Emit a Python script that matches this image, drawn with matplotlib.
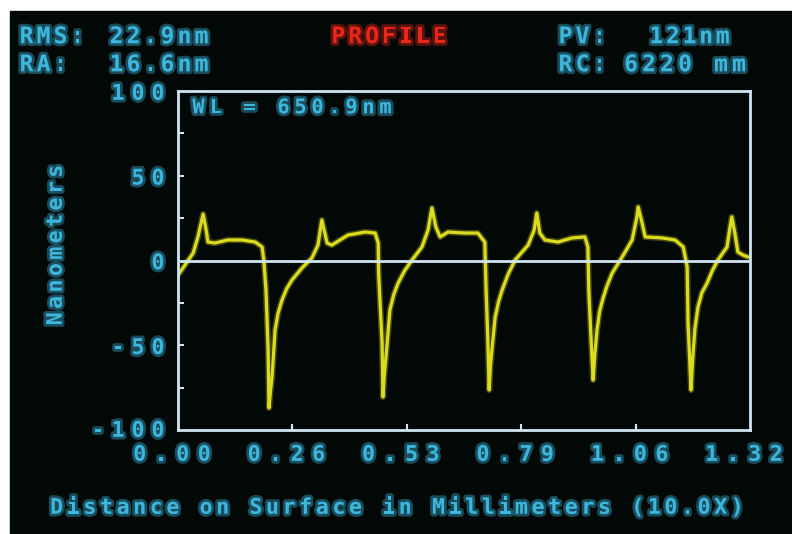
import matplotlib
matplotlib.use("Agg")
import matplotlib.pyplot as plt
import matplotlib.patheffects as pe
from matplotlib.patches import Rectangle

# surface profile trace (mm along surface, height in nm)
dist_mm = [0.000, 0.016, 0.035, 0.046, 0.058, 0.065, 0.069, 0.085, 0.115, 0.148,
           0.178, 0.194, 0.198, 0.203, 0.208, 0.210, 0.213, 0.217, 0.224, 0.231,
           0.240, 0.251, 0.263, 0.286, 0.309, 0.323, 0.332, 0.344, 0.355, 0.392,
           0.432, 0.455, 0.462, 0.463, 0.466, 0.471, 0.473, 0.476, 0.480, 0.489,
           0.498, 0.508, 0.523, 0.540, 0.563, 0.577, 0.586, 0.595, 0.605, 0.623,
           0.662, 0.692, 0.708, 0.711, 0.715, 0.718, 0.721, 0.725, 0.732, 0.740,
           0.748, 0.762, 0.778, 0.808, 0.822, 0.828, 0.835, 0.847, 0.877, 0.909,
           0.939, 0.946, 0.948, 0.953, 0.958, 0.962, 0.967, 0.973, 0.981, 0.990,
           1.002, 1.025, 1.048, 1.059, 1.062, 1.071, 1.078, 1.117, 1.147, 1.166,
           1.175, 1.177, 1.184, 1.186, 1.188, 1.193, 1.200, 1.209, 1.221, 1.233,
           1.246, 1.267, 1.274, 1.278, 1.285, 1.292, 1.304, 1.315]
height_nm = [-8.6, -2.7, 4.4, 13.9, 27.4, 18.0, 10.9, 10.3, 12.1, 12.1,
             10.9, 8.0, 0.3, -17.4, -52.8, -87.0, -78.0, -68.7, -41.0, -31.0,
             -23.3, -16.5, -11.5, -4.4, 1.5, 9.1, 23.9, 10.3, 9.1, 15.0,
             16.8, 16.2, 10.3, -7.4, -23.3, -48.7, -80.5, -68.0, -56.9, -29.2,
             -20.0, -13.3, -6.0, 0.3, 8.0, 18.0, 31.0, 19.8, 13.9, 16.8,
             16.2, 16.2, 10.9, -17.4, -46.9, -76.4, -62.0, -51.0, -33.3, -24.0,
             -17.4, -8.0, 0.3, 9.1, 18.0, 28.0, 16.2, 12.1, 10.9, 13.3,
             13.9, 8.0, -17.4, -45.1, -70.5, -55.0, -41.0, -30.0, -22.1, -15.0,
             -7.4, 2.1, 12.1, 25.7, 31.6, 22.1, 13.9, 13.3, 12.1, 8.0,
             -3.8, -36.9, -76.4, -66.0, -56.9, -40.0, -27.4, -19.0, -13.3, -6.0,
             0.3, 8.0, 19.8, 25.7, 16.2, 5.0, 3.2, 2.1]

x_ticks = [0.264, 0.528, 0.792, 1.056]
x_labels = ["0.00", "0.26", "0.53", "0.79", "1.06", "1.32"]
x_label_pos = [0.0, 0.264, 0.528, 0.792, 1.056, 1.32]
y_ticks = [-75, -50, -25, 25, 50, 75]
y_labels = ["100", "50", "0", "-50", "-100"]
y_label_pos = [100, 50, 0, -50, -100]

stats_left = [("RMS:", "22.9nm"), ("RA:", "16.6nm")]
stats_right = [("PV:", "121nm"), ("RC:", "6220 mm")]

W, H = 792, 534
CYAN = "#3db6de"
RED = "#e8261a"
YELLOW = "#dcdc1e"
FRAME = "#cfe6f2"
SCREEN = "#020806"
FONT = "DejaVu Sans Mono"

fig = plt.figure(figsize=(W / 100, H / 100), dpi=100)
fig.patch.set_facecolor("white")

# full-figure overlay in pixel units for the screen and the terminal text
bg = fig.add_axes([0, 0, 1, 1])
bg.set_xlim(0, W)
bg.set_ylim(H, 0)
bg.axis("off")
bg.add_patch(Rectangle((10, 11), W - 10, H - 11, color=SCREEN, zorder=0))


def glow(color, w=4.0):
    return [pe.withStroke(linewidth=w, foreground=color, alpha=0.4)]


def crt_text(x, y, s, pitch, size, color=CYAN, align="left", vertical=False):
    # one glyph per fixed cell, like the terminal character generator
    n = len(s)
    if align == "right":
        start = -n * pitch
    elif align == "center":
        start = -n * pitch / 2
    else:
        start = 0
    cap = 0.36 * size * 100 / 72
    for i, ch in enumerate(s):
        if ch == " ":
            continue
        off = start + (i + 0.5) * pitch
        if vertical:
            bg.text(x + cap, y - off, ch, rotation=90, ha="center", va="baseline",
                    rotation_mode="anchor", fontsize=size, family=FONT,
                    weight="bold", color=color, path_effects=glow(color), zorder=5)
        else:
            bg.text(x + off, y + cap, ch, ha="center", va="baseline",
                    fontsize=size, family=FONT, weight="bold", color=color,
                    path_effects=glow(color), zorder=5)


# header block
for row, (name, val) in enumerate(stats_left):
    crt_text(18, 35 + row * 28, name, 17, 16.5)
    crt_text(108, 35 + row * 28, val, 17, 16.5)
for row, (name, val) in enumerate(stats_right):
    crt_text(557, 35 + row * 28, name, 17, 16.5)
crt_text(648, 35, stats_right[0][1], 16.6, 16.5)
crt_text(622, 63, stats_right[1][1], 18, 16.5)
crt_text(389, 35, "PROFILE", 16.9, 16.5, color=RED, align="center")

# plot area
left, top, right, bottom = 178, 91, 750, 430
ax = fig.add_axes([left / W, (H - bottom) / H, (right - left) / W, (bottom - top) / H])
ax.set_facecolor("none")
ax.plot(dist_mm, height_nm, color=YELLOW, lw=2.3, zorder=2,
        solid_joinstyle="round", solid_capstyle="round",
        path_effects=[pe.withStroke(linewidth=4.5, foreground=YELLOW, alpha=0.3)])
ax.axhline(0, color=FRAME, lw=2.0, zorder=3)
ax.set_xlim(0, 1.32)
ax.set_ylim(-100, 100)
for sp in ax.spines.values():
    sp.set_color(FRAME)
    sp.set_linewidth(2.0)
ax.set_xticks(x_ticks)
ax.set_yticks(y_ticks)
ax.tick_params(direction="in", length=4, width=1.5, color=FRAME,
               labelbottom=False, labelleft=False)

crt_text(190, 106, "WL = 650.9nm", 17, 14.5)

# tick labels, positioned through the axes transform
fig.canvas.draw()
for v, lab in zip(y_label_pos, y_labels):
    py = H - ax.transData.transform((0, v))[1]
    if v == y_label_pos[-1]:
        py -= 2
    crt_text(168, py + 1, lab, 20, 15.5, align="right")
for v, lab in zip(x_label_pos, x_labels):
    px = ax.transData.transform((v, 0))[0]
    crt_text(px - 6, 453, lab, 21.5, 15.5, align="center")

crt_text(54, 245, "Nanometers", 16.4, 15.5, align="center", vertical=True)
crt_text(397, 506, "Distance on Surface in Millimeters (10.0X)", 16.6, 15.5,
         align="center")

fig.savefig("out.png", dpi=100, facecolor=fig.get_facecolor())
